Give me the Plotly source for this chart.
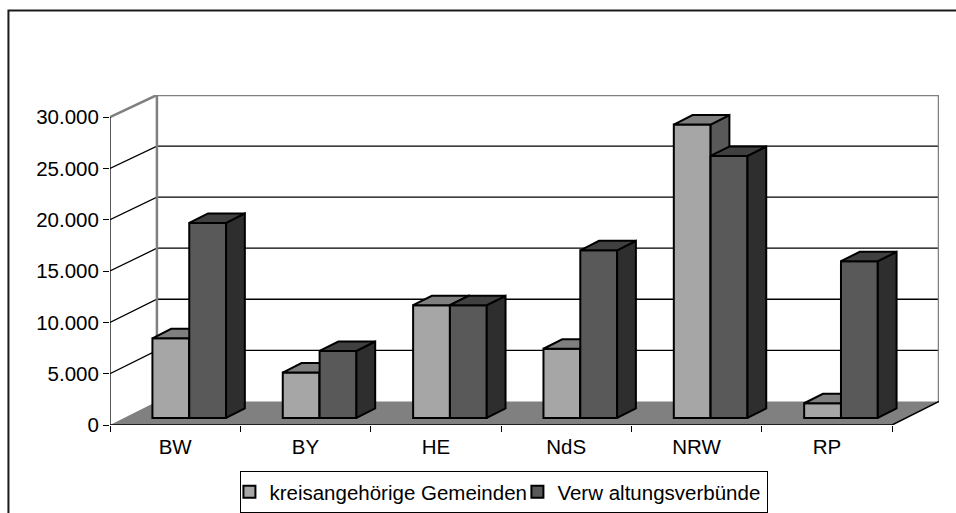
import plotly.graph_objects as go

categories = ['BW', 'BY', 'HE', 'NdS', 'NRW', 'RP']
kreisangehoerige = [7760, 4420, 10980, 6740, 28580, 1430]
verwaltungsverbuende = [19000, 6525, 10980, 16330, 25520, 15265]
y_ticks = [0, 5000, 10000, 15000, 20000, 25000, 30000]

FONT = dict(family='Liberation Sans, Arial, sans-serif', size=20.5, color='#000000')
GREY = '#808080'
DEPTH_X = 0.36   # how far one full depth shifts right, in category units
DEPTH_Y = 2300   # how far one full depth shifts up, in value units
BACK_SCALE = 0.995   # the back wall is drawn a touch shorter than the front axis
BAR_W = 0.2825
NEAR, FAR = 0.3, 0.7   # bars sit in this slice of the depth
PX_PER_VALUE = 308 / 30000


def back_y(v):
	return DEPTH_Y + v * BACK_SCALE


def poly_trace(xs, ys, fill_color, z, line_width=2):
	return go.Scatter(x=xs, y=ys, mode='lines', fill='toself', fillcolor=fill_color,
					  line=dict(color='#000000', width=line_width), hoverinfo='skip',
					  showlegend=False, cliponaxis=False, zorder=z)


def line_trace(xs, ys, color, width, z=0):
	return go.Scatter(x=xs, y=ys, mode='lines', line=dict(color=color, width=width),
					  hoverinfo='skip', showlegend=False, cliponaxis=False, zorder=z)


def add_series(fig, name, values, series_idx, front, top, side, legend_width):
	z = series_idx + 1
	lefts = [i + 0.5 - BAR_W + series_idx * BAR_W + NEAR * DEPTH_X for i in range(len(values))]
	base = NEAR * DEPTH_Y
	fig.add_trace(go.Bar(x=[l + BAR_W / 2 for l in lefts], y=values, base=base, width=BAR_W, name=name,
						 marker=dict(color=front, line=dict(color='#000000', width=2)),
						 legendwidth=legend_width, hoverinfo='skip', zorder=z))
	dx = (FAR - NEAR) * DEPTH_X
	dy = (FAR - NEAR) * DEPTH_Y
	side_x, side_y, top_x, top_y = [], [], [], []
	for l, v in zip(lefts, values):
		r = l + BAR_W
		side_x += [r, r + dx, r + dx, r, r, None]
		side_y += [base, base + dy, base + v + dy, base + v, base, None]
		top_x += [l, l + dx, r + dx, r, l, None]
		top_y += [base + v, base + v + dy, base + v + dy, base + v, base + v, None]
	fig.add_trace(poly_trace(side_x, side_y, side, z))
	fig.add_trace(poly_trace(top_x, top_y, top, z))


n = len(categories)
y_max = y_ticks[-1]
y_top = back_y(y_max)
fig = go.Figure()

# floor
fig.add_trace(go.Scatter(x=[0, DEPTH_X, n + DEPTH_X, n, 0], y=[0, DEPTH_Y, DEPTH_Y, 0, 0], mode='lines',
						 fill='toself', fillcolor=GREY, line=dict(width=0), hoverinfo='skip',
						 showlegend=False, cliponaxis=False, zorder=0))

# gridlines on the side wall and back wall
grid_x, grid_y = [], []
for v in y_ticks[1:-1]:
	grid_x += [0, DEPTH_X, n + DEPTH_X, None]
	grid_y += [v, back_y(v), back_y(v), None]
fig.add_trace(line_trace(grid_x, grid_y, '#000000', 1.3))

# wall frame
fig.add_trace(line_trace([0, DEPTH_X, n + DEPTH_X, n + DEPTH_X], [y_max, y_top, y_top, DEPTH_Y], GREY, 2.5))
fig.add_trace(line_trace([DEPTH_X, DEPTH_X], [DEPTH_Y, y_top], GREY, 2.5))

# axis lines
fig.add_trace(line_trace([0, 0], [0, y_max], '#000000', 1.3))
fig.add_trace(line_trace([0, n, n + DEPTH_X], [0, 0, DEPTH_Y], '#000000', 1.5))

add_series(fig, 'kreisangehörige Gemeinden', kreisangehoerige, 0, '#A6A6A6', '#7F7F7F', '#595959', 255)
add_series(fig, 'Verw altungsverbünde', verwaltungsverbuende, 1, '#595959', '#404040', '#2E2E2E', 205)

fig.update_layout(
	width=956, height=513, autosize=False,
	margin=dict(l=109.5, r=17, t=513 - 88.3 - y_top * PX_PER_VALUE, b=88.3, autoexpand=False),
	paper_bgcolor='#FFFFFF', plot_bgcolor='rgba(0,0,0,0)',
	font=FONT, separators=',.', barmode='overlay',
	legend=dict(orientation='h', x=(240 - 109.5) / 829.5, xanchor='left', y=-46 / (y_top * PX_PER_VALUE), yanchor='top',
				bordercolor='#000000', borderwidth=1, bgcolor='#FFFFFF', font=FONT, indentation=-12,
				itemclick=False, itemdoubleclick=False),
	shapes=[dict(type='path', xref='paper', yref='paper', layer='below',
				 path='M -0.1225,-0.27 L -0.1225,1.2563 L 1.03,1.2563',
				 line=dict(color='#1A1A1A', width=2))],
)
fig.update_xaxes(range=[0, n + DEPTH_X], showgrid=False, zeroline=False, showline=False,
				 tickvals=[i + 0.5 for i in range(n)], ticktext=categories,
				 ticks='outside', ticklen=3, tickcolor='rgba(0,0,0,0)',
				 minor=dict(tickvals=list(range(n + 1)), ticks='outside', ticklen=6, tickcolor='#000000', tickwidth=1))
fig.update_yaxes(range=[0, y_top], showgrid=False, zeroline=False, showline=False,
				 tickvals=y_ticks, tickformat=',d', ticks='outside', ticklen=6, tickcolor='#000000', tickwidth=1)

fig.write_html('out.html', config=dict(displayModeBar=False),
			   post_script="document.body.style.margin='0';document.body.style.overflow='hidden';")
